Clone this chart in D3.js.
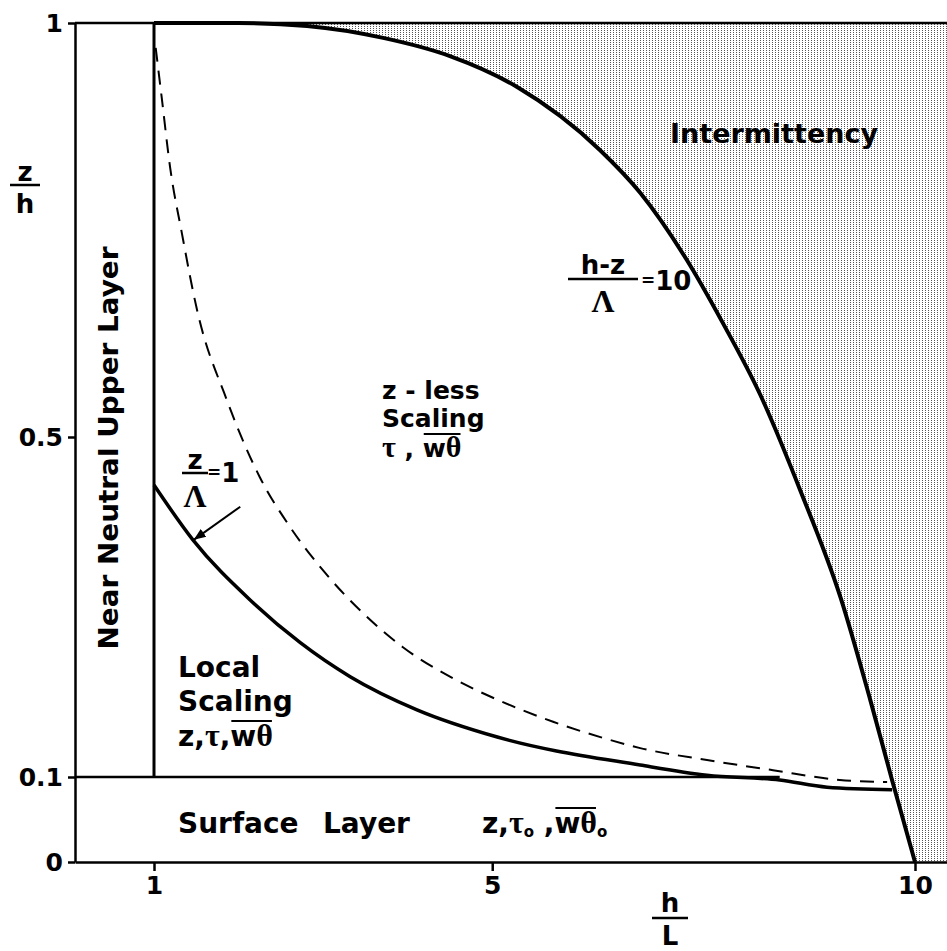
<!DOCTYPE html>
<html><head><meta charset="utf-8">
<script src="https://cdn.jsdelivr.net/npm/d3@7"></script>
<style>
html,body{margin:0;padding:0;background:#fff;}
svg{display:block;}
text{font-family:"DejaVu Sans",sans-serif;font-weight:bold;fill:#000;}
.serif{font-family:"Liberation Serif","DejaVu Serif",serif;font-weight:bold;}
</style></head><body>
<svg id="c" width="947" height="951"></svg>
<script>
// ---- data ----
const xTickValues = [1, 5, 10];
const yTickValues = [0, 0.1, 0.5, 1];
const yTickLabels = ["0", "0.1", "0.5", "1"];
// outer boundary  (h - z)/Lambda = 10
const hzX = [1.0, 2.0, 2.81, 3.71, 4.5, 5.29, 6.27, 6.75, 7.3, 7.72, 8.17, 8.64, 9.12, 9.47, 9.73, 10.0];
const hzY = [1.0, 1.0, 0.9964, 0.982, 0.960, 0.923, 0.847, 0.795, 0.714, 0.639, 0.551, 0.438, 0.311, 0.191, 0.096, 0.0];
// z/Lambda = 1 (solid)
const locX = [1.0, 1.46, 2.14, 2.73, 3.32, 4.11, 5.06, 6.75, 7.54, 8.4, 8.96, 9.73];
const locY = [0.4435, 0.379, 0.308, 0.258, 0.218, 0.179, 0.147, 0.114, 0.102, 0.0965, 0.088, 0.085];
// dashed curve
const dashX = [1.02, 1.09, 1.19, 1.33, 1.51, 1.86, 2.25, 2.61, 3.0, 3.47, 3.94, 4.5, 5.06, 5.72, 6.31, 6.75, 7.54, 8.32, 9.11, 9.67];
const dashY = [0.97, 0.911, 0.826, 0.746, 0.653, 0.545, 0.453, 0.394, 0.343, 0.293, 0.253, 0.218, 0.191, 0.165, 0.146, 0.134, 0.120, 0.108, 0.0965, 0.094];
// straight boundaries
const neutralX = 1;          // vertical boundary h/L = 1
const surfaceZ = 0.1;        // surface layer top z/h = 0.1
const surfaceEndX = 8.4;
const xMax = 10.5;

// ---- scales ----
const svg = d3.select("#c");
const x = d3.scaleLinear().domain([0, 1, 10, xMax]).range([75, 154, 915, 1000]);
const y = d3.scaleLinear().domain([0, 0.1, 0.5, 1]).range([862, 777, 437, 23]);

const zip = (a, b) => a.map((v, i) => [v, b[i]]);
const line = d3.line().x(d => x(d[0])).y(d => y(d[1])).curve(d3.curveMonotoneX);

// shading pattern
const defs = svg.append("defs");
const pat = defs.append("pattern").attr("id", "dots").attr("patternUnits", "userSpaceOnUse")
  .attr("width", 3).attr("height", 2);
pat.append("rect").attr("width", 3).attr("height", 2).attr("fill", "#fff");
pat.append("rect").attr("x", 1).attr("y", 0).attr("width", 1).attr("height", 1).attr("fill", "#555");
defs.append("marker").attr("id", "arr").attr("viewBox", "0 0 10 10").attr("refX", 10).attr("refY", 5)
  .attr("markerWidth", 6).attr("markerHeight", 6).attr("orient", "auto").attr("markerUnits", "strokeWidth")
  .append("path").attr("d", "M0,1 L10,5 L0,9 Z").attr("fill", "#000");

// intermittency region
const hzPts = zip(hzX, hzY);
svg.append("path")
  .attr("d", line(hzPts) + `L${x(xMax)},${y(0)}L${x(xMax)},${y(1)}Z`)
  .attr("fill", "url(#dots)").attr("stroke", "none");

// axes
const yAxis = d3.axisLeft(y).tickValues(yTickValues).tickFormat((d, i) => yTickLabels[i])
  .tickSizeInner(7).tickSizeOuter(0).tickPadding(5);
const gy = svg.append("g").attr("transform", `translate(${x(0)},0)`).call(yAxis);
const xAxis = d3.axisBottom(x).tickValues(xTickValues).tickFormat(d3.format("d"))
  .tickSizeInner(9).tickSizeOuter(0).tickPadding(5);
const gx = svg.append("g").attr("transform", `translate(0,${y(0)})`).call(xAxis);
[gx, gy].forEach(g => {
  g.selectAll("path.domain").attr("stroke", "#000").attr("stroke-width", 2.5);
  g.selectAll(".tick line").attr("stroke", "#000").attr("stroke-width", 2.5);
  g.selectAll(".tick text").style("font-family", "'DejaVu Sans',sans-serif")
    .style("font-weight", "bold").style("font-size", "25px").attr("fill", "#000");
});

// top boundary z/h = 1
svg.append("line").attr("x1", x(0)).attr("x2", x(xMax)).attr("y1", y(1)).attr("y2", y(1))
  .attr("stroke", "#000").attr("stroke-width", 2.5);
// surface layer line
svg.append("line").attr("x1", x(0)).attr("x2", x(surfaceEndX)).attr("y1", y(surfaceZ)).attr("y2", y(surfaceZ))
  .attr("stroke", "#000").attr("stroke-width", 2.5);
// near-neutral boundary
svg.append("line").attr("x1", x(neutralX)).attr("x2", x(neutralX)).attr("y1", y(surfaceZ)).attr("y2", y(1))
  .attr("stroke", "#000").attr("stroke-width", 3);

// curves
svg.append("path").attr("d", line(hzPts)).attr("fill", "none").attr("stroke", "#000").attr("stroke-width", 4);
svg.append("path").attr("d", line(zip(locX, locY))).attr("fill", "none").attr("stroke", "#000").attr("stroke-width", 3.5);
svg.append("path").attr("d", line(zip(dashX, dashY))).attr("fill", "none").attr("stroke", "#000")
  .attr("stroke-width", 2).attr("stroke-dasharray", "14,9");

// arrow toward z/Lambda = 1 curve
svg.append("line").attr("x1", x(2.02)).attr("y1", y(0.418)).attr("x2", x(1.47)).attr("y2", y(0.379))
  .attr("stroke", "#000").attr("stroke-width", 2).attr("marker-end", "url(#arr)");

// ---- text helpers ----
function rich(xp, yp, parts, size, anchor) {
  const t = svg.append("text").attr("x", xp).attr("y", yp).style("font-size", size + "px")
    .attr("text-anchor", anchor || "start");
  parts.forEach(p => {
    const s = t.append("tspan").text(p.t);
    if (p.serif) s.attr("class", "serif");
    if (p.size) s.style("font-size", p.size + "px");
    if (p.dy) s.attr("dy", p.dy);
  });
  return t;
}
function frac(cx, num, den, yNum, yBar, yDen, half, size, denSerif, denSize) {
  svg.append("text").attr("x", cx).attr("y", yNum).attr("text-anchor", "middle").style("font-size", size + "px").text(num);
  svg.append("line").attr("x1", cx - half).attr("x2", cx + half).attr("y1", yBar).attr("y2", yBar)
    .attr("stroke", "#000").attr("stroke-width", 2.5);
  const d = svg.append("text").attr("x", cx).attr("y", yDen).attr("text-anchor", "middle")
    .style("font-size", (denSize || size) + "px").text(den);
  if (denSerif) d.attr("class", "serif");
}

// axis titles
frac(25, "z", "h", 181, 185, 213, 15, 26);
frac(670, "h", "L", 912, 918, 945, 18, 26);

// curve labels
frac(195, "z", "Λ", 469, 473, 507, 13, 26, true, 32);
rich(207, 482, [{t: "=", size: 17, dy: -4}, {t: "1", size: 26, dy: 4}], 26);
frac(603, "h-z", "Λ", 274, 279, 312, 35, 26, true, 32);
rich(641, 290, [{t: "=", size: 17, dy: -4}, {t: "10", size: 26, dy: 4}], 26);

// region labels
svg.append("text").attr("x", 774).attr("y", 143).attr("text-anchor", "middle").style("font-size", "27px")
  .attr("textLength", 208).attr("lengthAdjust", "spacingAndGlyphs").text("Intermittency");
svg.append("text").attr("transform", "translate(118,448) rotate(-90)").attr("text-anchor", "middle")
  .style("font-size", "27px").attr("textLength", 403).attr("lengthAdjust", "spacingAndGlyphs")
  .text("Near Neutral Upper Layer");

rich(382, 399, [{t: "z - less"}], 25);
rich(382, 427, [{t: "Scaling"}], 25);
rich(382, 457, [{t: "τ", serif: true, size: 30}, {t: " , "}, {t: "w"}, {t: "θ", serif: true, size: 30}], 25);

rich(178, 677, [{t: "Local"}], 28);
rich(178, 711, [{t: "Scaling"}], 28);
rich(178, 746, [{t: "z,"}, {t: "τ", serif: true, size: 32}, {t: ","}, {t: "w"}, {t: "θ", serif: true, size: 32}], 28);

rich(178, 833, [{t: "Surface"}], 28);
rich(323, 833, [{t: "Layer"}], 28);
rich(482, 833, [{t: "z"}, {t: ","}, {t: "τ", serif: true, size: 32}, {t: "o", size: 15, dy: 4},
  {t: " ,", dy: -4}, {t: "w"}, {t: "θ", serif: true, size: 32}, {t: "o", size: 15, dy: 4}], 28);

// overlines for w-theta groups
svg.selectAll("text").each(function() {
  const n = this, s = n.textContent;
  const i = s.indexOf("wθ");
  if (i >= 0) {
    const a = n.getExtentOfChar(i), b = n.getExtentOfChar(i + 1);
    svg.append("line").attr("x1", a.x + 1).attr("x2", b.x + b.width - 1)
      .attr("y1", b.y + 4).attr("y2", b.y + 4).attr("stroke", "#000").attr("stroke-width", 2);
  }
});
</script>
</body></html>
